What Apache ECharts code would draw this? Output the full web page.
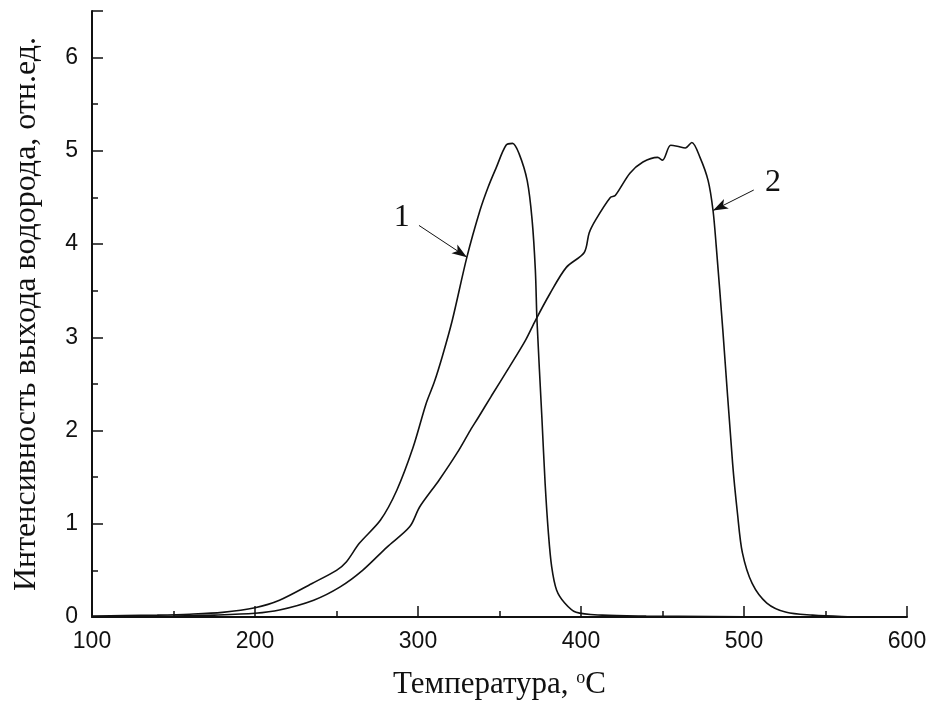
<!DOCTYPE html>
<html>
<head>
<meta charset="utf-8">
<script src="https://cdn.jsdelivr.net/npm/echarts@6/dist/echarts.min.js"></script>
<style>
  html, body { margin: 0; padding: 0; background: #ffffff; }
  #chart { width: 935px; height: 712px; }
</style>
</head>
<body>
<div id="chart"></div>
<script>
// Температура, °C — curve 1
const temp1 = [100, 120, 140, 160, 180, 200, 215, 235, 250, 256, 264, 277, 287, 297, 305, 310, 315, 321, 330, 338, 343, 348, 354, 358, 362, 367, 370, 372, 373, 376, 378, 380, 382, 385, 390, 397, 413, 440, 480, 520, 560, 580];
const flow1 = [0.01, 0.015, 0.02, 0.03, 0.05, 0.1, 0.18, 0.36, 0.5, 0.59, 0.79, 1.04, 1.36, 1.82, 2.29, 2.52, 2.8, 3.18, 3.86, 4.36, 4.61, 4.82, 5.06, 5.08, 4.97, 4.68, 4.26, 3.72, 3.18, 2.14, 1.43, 0.9, 0.54, 0.29, 0.15, 0.05, 0.02, 0.01, 0.005, 0, 0, 0];

// curve 2
const temp2 = [120, 150, 175, 200, 215, 236, 252, 266, 281, 295, 301, 313, 324, 332, 337, 345, 356, 366, 372, 381, 391, 402, 405, 409, 418, 421, 430, 438, 447, 450, 455, 459, 464, 468, 473, 478, 481, 483, 487, 493, 496, 499, 505, 514, 526, 542, 560, 580];
const flow2 = [0.005, 0.01, 0.02, 0.04, 0.075, 0.18, 0.32, 0.5, 0.75, 0.97, 1.18, 1.47, 1.76, 2.0, 2.14, 2.37, 2.68, 2.97, 3.18, 3.47, 3.75, 3.91, 4.12, 4.26, 4.5, 4.52, 4.76, 4.88, 4.93, 4.9, 5.06, 5.05, 5.03, 5.09, 4.93, 4.68, 4.36, 3.97, 3.08, 1.65, 1.11, 0.69, 0.36, 0.15, 0.05, 0.02, 0.005, 0];

// pointer arrows: [label position, arrow tail, arrow head] in data units
const callout1 = { text: '1', label: [290, 4.28], from: [300.6, 4.20], to: [330, 3.86] };
const callout2 = { text: '2', label: [517.8, 4.66], from: [506, 4.58], to: [481, 4.36] };

const ink = '#111111';
const pairs = (xs, ys) => xs.map((x, i) => [x, ys[i]]);

function calloutSeries(c) {
  return {
    type: 'line',
    data: [],
    silent: true,
    markLine: {
      silent: true,
      symbol: ['none', 'arrow'],
      symbolSize: [8, 15],
      lineStyle: { color: ink, width: 1, type: 'solid' },
      label: { show: false },
      data: [[{ coord: c.from }, { coord: c.to }]]
    },
    markPoint: {
      silent: true,
      symbol: 'circle',
      symbolSize: 0,
      label: {
        show: true,
        formatter: c.text,
        position: 'inside',
        fontFamily: 'Liberation Serif',
        fontSize: 32,
        color: ink
      },
      data: [{ coord: c.label }]
    }
  };
}

const chart = echarts.init(document.getElementById('chart'), null, { renderer: 'canvas' });
chart.setOption({
  backgroundColor: '#ffffff',
  animation: false,
  grid: { left: 92, right: 28, top: 11, bottom: 95, containLabel: false },
  xAxis: {
    type: 'value',
    min: 100,
    max: 600,
    interval: 100,
    name: '{t|Температура, }{s|o}{t|C}',
    nameLocation: 'middle',
    nameGap: 52,
    nameTextStyle: {
      rich: {
        t: { fontFamily: 'Liberation Serif', fontSize: 31, color: ink },
        s: { fontFamily: 'Liberation Serif', fontSize: 18, color: ink, verticalAlign: 'top', padding: [0, 0, 12, 0] }
      }
    },
    axisLine: { show: true, onZero: false, lineStyle: { color: ink, width: 2 } },
    axisTick: { show: true, inside: true, length: 11, lineStyle: { color: ink, width: 1.5 } },
    minorTick: { show: true, splitNumber: 2, length: 6, lineStyle: { color: ink, width: 1.5 } },
    axisLabel: { fontFamily: 'Liberation Sans', fontSize: 23, color: ink, margin: 13 },
    splitLine: { show: false }
  },
  yAxis: {
    type: 'value',
    min: 0,
    max: 6.5,
    interval: 1,
    name: 'Интенсивность выхода водорода, отн.ед.',
    nameLocation: 'middle',
    nameGap: 49,
    nameTextStyle: { fontFamily: 'Liberation Serif', fontSize: 32, color: ink },
    axisLine: { show: true, onZero: false, lineStyle: { color: ink, width: 2 } },
    axisTick: { show: true, inside: true, length: 11, lineStyle: { color: ink, width: 1.5 } },
    minorTick: { show: true, splitNumber: 2, length: 6, lineStyle: { color: ink, width: 1.5 } },
    axisLabel: { fontFamily: 'Liberation Sans', fontSize: 23, color: ink, margin: 14, showMaxLabel: false },
    splitLine: { show: false }
  },
  series: [
    {
      name: '1',
      type: 'line',
      data: pairs(temp1, flow1),
      showSymbol: false,
      smooth: 0.3,
      lineStyle: { color: ink, width: 1.6 },
      z: 3
    },
    {
      name: '2',
      type: 'line',
      data: pairs(temp2, flow2),
      showSymbol: false,
      smooth: 0.3,
      lineStyle: { color: ink, width: 1.6 },
      z: 3
    },
    calloutSeries(callout1),
    calloutSeries(callout2)
  ]
});
</script>
</body>
</html>
